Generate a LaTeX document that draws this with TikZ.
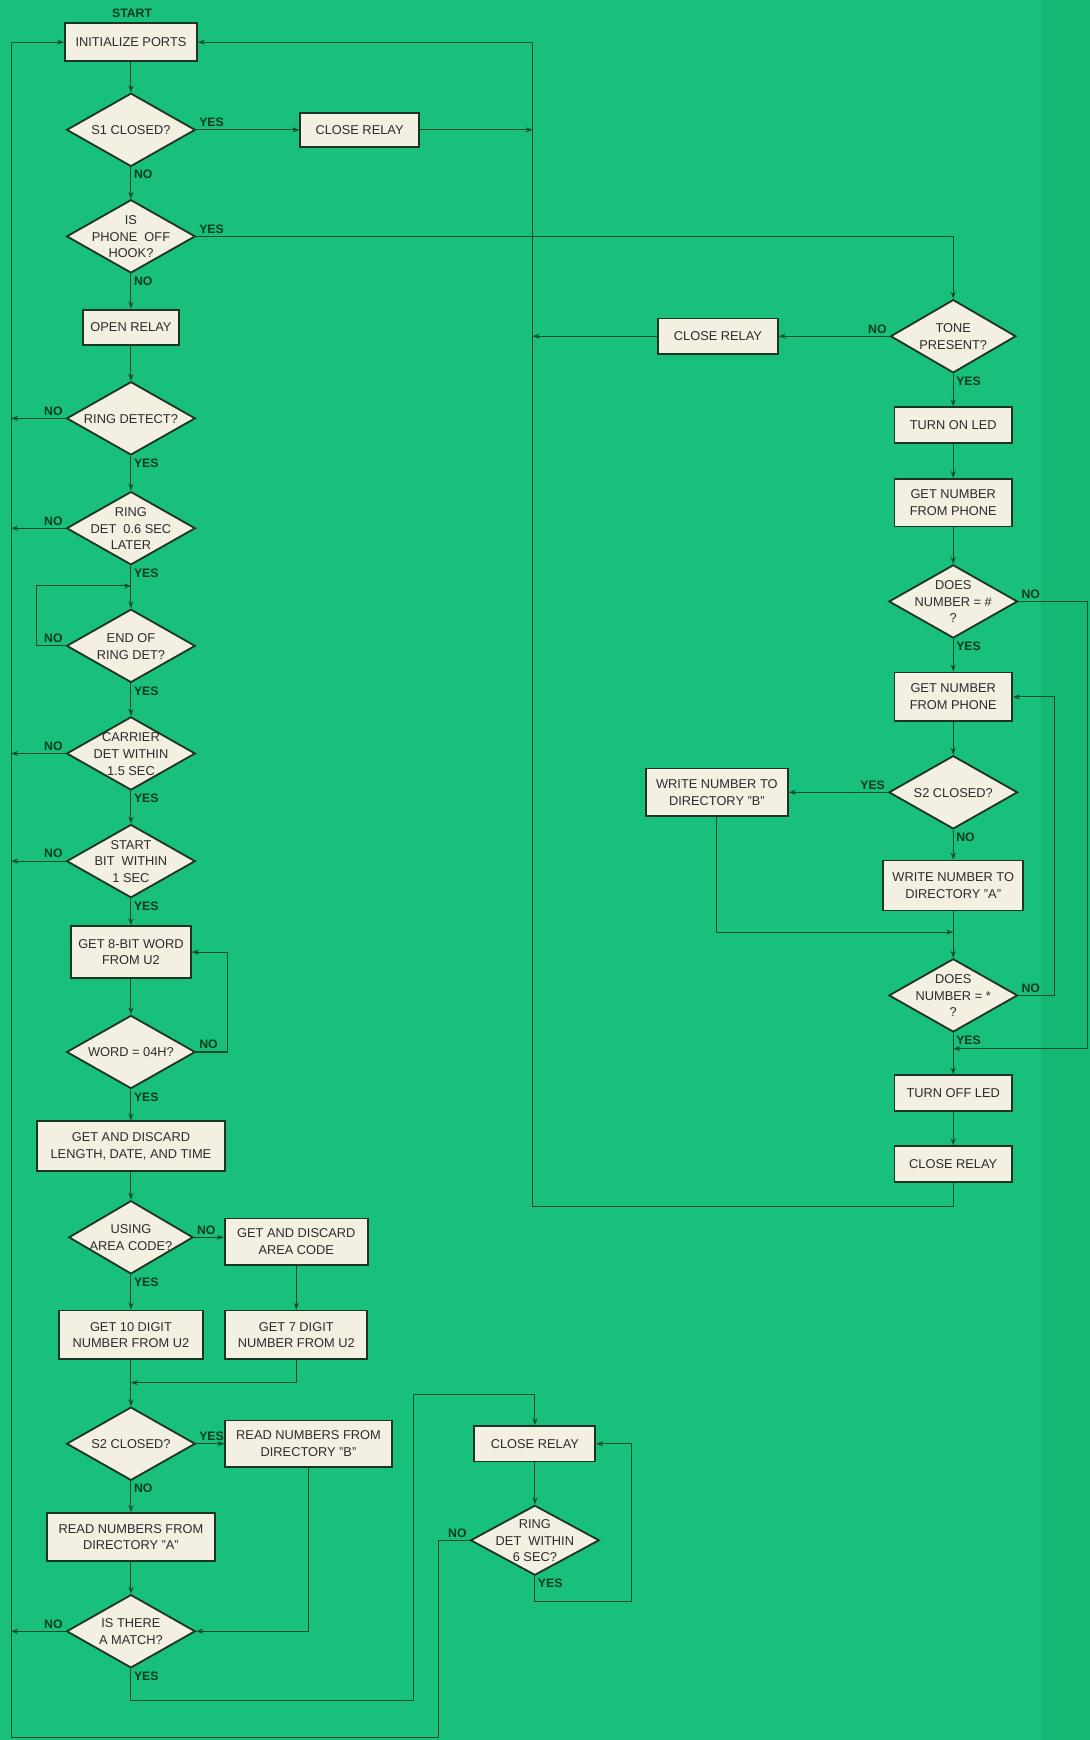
\documentclass[tikz,border=0pt]{standalone}
\usepackage{fontspec}
\setmainfont{Liberation Sans}
\usetikzlibrary{shapes.geometric,arrows.meta}
\tikzset{>={Stealth[length=5pt,width=3.6pt]}}
\definecolor{bggreen}{HTML}{19C07D}
\definecolor{bgband}{HTML}{15B775}
\definecolor{wire}{HTML}{0D4A28}
\definecolor{rim}{HTML}{1D3324}
\definecolor{paper}{HTML}{F3F0E2}
\definecolor{ink}{HTML}{2B2B2B}
\definecolor{tagc}{HTML}{0A3B1C}
\newcommand{\px}{0.028cm}
\newcommand{\dtext}[1]{\smash{\raisebox{-3.3pt}{\makebox[0pt]{\begin{tabular}{@{}c@{}}#1\end{tabular}}}}}
\tikzset{
  proc/.style 2 args={rectangle, draw=rim, fill=paper, line width=1.3pt, minimum width=#1*\px, minimum height=#2*\px, inner sep=0pt, align=center, text=ink, font=\fontsize{9.2}{12}\selectfont},
  decision/.style={diamond, draw=rim, fill=paper, line width=1.3pt, minimum width=116*\px, minimum height=66*\px, inner sep=0pt, text=ink, font=\fontsize{9.2}{12}\selectfont},
  flow/.style={->, draw=wire, line width=0.75pt},
  yn/.style={text=tagc, font=\fontsize{8.8}{10}\selectfont\bfseries, inner sep=2pt},
}

\begin{document}
\begin{tikzpicture}[x=\px, y=-\px]
\fill[bggreen] (0,0) rectangle (982,1568);
\fill[bgband] (938,0) rectangle (982,1568);
\useasboundingbox (0,0) rectangle (982,1568);

\coordinate (trunk) at (10,1566);
\coordinate (rail) at (480,1087);

\node[yn] (start) at (119,12) {START};
\node[proc={119}{34}] (init) at (118,38) {INITIALIZE PORTS};
\node[decision] (s1) at (118,117) {\dtext{S1 CLOSED?}};
\node[proc={107}{31}] (cr1) at (324,117) {CLOSE RELAY};
\node[decision] (hook) at (118,213) {\dtext{IS\\PHONE\ \ OFF\\HOOK?}};
\node[proc={86}{32}] (open) at (118,295) {OPEN RELAY};
\node[decision] (ring) at (118,377) {\dtext{RING DETECT?}};
\node[decision] (ring6) at (118,476) {\dtext{RING\\DET\ \ 0.6 SEC\\LATER}};
\node[decision] (endring) at (118,582) {\dtext{END OF\\RING DET?}};
\node[decision] (carrier) at (118,679) {\dtext{CARRIER\\DET WITHIN\\1.5 SEC}};
\node[decision] (startbit) at (118,776) {\dtext{START\\BIT\ \ WITHIN\\1 SEC}};
\node[proc={108}{47}] (getword) at (118,858) {GET 8-BIT WORD\\FROM U2};
\node[decision] (word) at (118,948) {\dtext{WORD = 04H?}};
\node[proc={170}{45}] (discard) at (118,1033) {GET AND DISCARD\\LENGTH, DATE, AND TIME};
\node[decision, minimum width=112*\px] (area) at (118,1115) {\dtext{USING\\AREA CODE?}};
\node[proc={129}{42}] (dropcode) at (267,1119) {GET AND DISCARD\\AREA CODE};
\node[proc={130}{44}] (get10) at (118,1203) {GET 10 DIGIT\\NUMBER FROM U2};
\node[proc={128}{44}] (get7) at (267,1203) {GET 7 DIGIT\\NUMBER FROM U2};
\node[decision] (s2) at (118,1301) {\dtext{S2 CLOSED?}};
\node[proc={150}{42}] (readb) at (278,1301) {READ NUMBERS FROM\\DIRECTORY "B"};
\node[proc={151}{43}] (reada) at (118,1385) {READ NUMBERS FROM\\DIRECTORY "A"};
\node[decision] (match) at (118,1470) {\dtext{IS THERE\\A MATCH?}};
\node[proc={109}{32}] (cr3) at (482,1301) {CLOSE RELAY};
\node[decision, minimum height=63*\px] (ring60) at (482,1388) {\dtext{RING\\DET\ \ WITHIN\\6 SEC?}};

\node[decision, minimum width=113*\px] (tone) at (859,303) {\dtext{TONE\\PRESENT?}};
\node[proc={108}{32}] (cr2) at (647,303) {CLOSE RELAY};
\node[proc={106}{32}] (ledon) at (859,383) {TURN ON LED};
\node[proc={106}{43}] (getnum) at (859,453) {GET NUMBER\\FROM PHONE};
\node[decision] (hash) at (859,542) {\dtext{DOES\\NUMBER = \#\\?}};
\node[proc={106}{44}] (nextnum) at (859,628) {GET NUMBER\\FROM PHONE};
\node[decision] (s2r) at (859,714) {\dtext{S2 CLOSED?}};
\node[proc={128}{43}] (writeb) at (646,714) {WRITE NUMBER TO\\DIRECTORY "B"};
\node[proc={126}{45}] (writea) at (859,798) {WRITE NUMBER TO\\DIRECTORY "A"};
\node[decision] (star) at (859,897) {\dtext{DOES\\NUMBER = *\\?}};
\node[proc={106}{32}] (ledoff) at (859,985) {TURN OFF LED};
\node[proc={106}{32}] (cr4) at (859,1049) {CLOSE RELAY};

\coordinate (waitloop) at (33,528);
\coordinate (waitjoin) at (118,528);
\coordinate (wordloop) at (205,948);
\coordinate (merge) at (118,1246);
\coordinate (yesdrop) at (373,1532);
\coordinate (yesrise) at (373,1257);
\coordinate (retry) at (569,1443);
\coordinate (giveup) at (395,1566);
\coordinate (hashloop) at (980,542);
\coordinate (skipjoin) at (859,945);
\coordinate (bjoin) at (859,840);
\coordinate (starloop) at (950,897);

\draw[flow] (init) -- (s1);
\draw[flow] (s1) -- (cr1);
\draw[flow] (cr1) -- (cr1 -| rail);
\draw[flow] (s1) -- (hook);
\draw[flow] (hook) -| (tone);
\draw[flow] (hook) -- (open);
\draw[flow] (open) -- (ring);
\draw[flow] (ring) -- (ring -| trunk);
\draw[flow] (ring) -- (ring6);
\draw[flow] (ring6) -- (ring6 -| trunk);
\draw[flow] (ring6) -- (endring);
\draw[flow] (endring) -| (waitloop) -- (waitjoin);
\draw[flow] (endring) -- (carrier);
\draw[flow] (carrier) -- (carrier -| trunk);
\draw[flow] (carrier) -- (startbit);
\draw[flow] (startbit) -- (startbit -| trunk);
\draw[flow] (startbit) -- (getword);
\draw[flow] (getword) -- (word);
\draw[flow] (word) -- (wordloop) |- (getword);
\draw[flow] (word) -- (discard);
\draw[flow] (discard) -- (area);
\draw[flow] (area) -- (area -| dropcode.west);
\draw[flow] (area) -- (get10);
\draw[flow] (dropcode) -- (get7);
\draw[flow] (get7) |- (merge);
\draw[flow] (get10) -- (s2);
\draw[flow] (s2) -- (readb);
\draw[flow] (s2) -- (reada);
\draw[flow] (reada) -- (match);
\draw[flow] (readb) |- (match);
\draw[flow] (match) -- (match -| trunk);
\draw[flow] (match) |- (yesdrop) -- (yesrise) -| (cr3);
\draw[flow] (cr3) -- (ring60);
\draw[flow] (ring60) |- (retry) |- (cr3);
\draw[flow] (ring60) -| (giveup) -- (trunk) |- (init);

\draw[flow] (tone) -- (cr2);
\draw[flow] (cr2) -- (cr2 -| rail);
\draw[flow] (tone) -- (ledon);
\draw[flow] (ledon) -- (getnum);
\draw[flow] (getnum) -- (hash);
\draw[flow] (hash) -- (hashloop) |- (skipjoin);
\draw[flow] (hash) -- (nextnum);
\draw[flow] (nextnum) -- (s2r);
\draw[flow] (s2r) -- (writeb);
\draw[flow] (s2r) -- (writea);
\draw[flow] (writeb) |- (bjoin);
\draw[flow] (writea) -- (star);
\draw[flow] (star) -- (starloop) |- (nextnum);
\draw[flow] (star) -- (ledoff);
\draw[flow] (ledoff) -- (cr4);
\draw[flow] (cr4) |- (rail) -- (rail |- init) -- (init);

\node[yn, above right] (s1yes) at (s1.east) {YES};
\node[yn, below right] (s1no) at (s1.south) {NO};
\node[yn, above right] (hookyes) at (hook.east) {YES};
\node[yn, below right] (hookno) at (hook.south) {NO};
\node[yn, above left] (ringno) at (ring.west) {NO};
\node[yn, below right] (ringyes) at (ring.south) {YES};
\node[yn, above left] (ring6no) at (ring6.west) {NO};
\node[yn, below right] (ring6yes) at (ring6.south) {YES};
\node[yn, above left] (endringno) at (endring.west) {NO};
\node[yn, below right] (endringyes) at (endring.south) {YES};
\node[yn, above left] (carrierno) at (carrier.west) {NO};
\node[yn, below right] (carrieryes) at (carrier.south) {YES};
\node[yn, above left] (startbitno) at (startbit.west) {NO};
\node[yn, below right] (startbityes) at (startbit.south) {YES};
\node[yn, above right] (wordno) at (word.east) {NO};
\node[yn, below right] (wordyes) at (word.south) {YES};
\node[yn, above right] (areano) at (area.east) {NO};
\node[yn, below right] (areayes) at (area.south) {YES};
\node[yn, above right] (s2yes) at (s2.east) {YES};
\node[yn, below right] (s2no) at (s2.south) {NO};
\node[yn, above left] (matchno) at (match.west) {NO};
\node[yn, below right] (matchyes) at (match.south) {YES};
\node[yn, above left] (ring60no) at (ring60.west) {NO};
\node[yn, below right] (ring60yes) at (ring60.south) {YES};
\node[yn, above left] (toneno) at (tone.west) {NO};
\node[yn, below right] (toneyes) at (tone.south) {YES};
\node[yn, above right] (hashno) at (hash.east) {NO};
\node[yn, below right] (hashyes) at (hash.south) {YES};
\node[yn, above left] (s2ryes) at (s2r.west) {YES};
\node[yn, below right] (s2rno) at (s2r.south) {NO};
\node[yn, above right] (starno) at (star.east) {NO};
\node[yn, below right] (staryes) at (star.south) {YES};
\end{tikzpicture}
\end{document}
